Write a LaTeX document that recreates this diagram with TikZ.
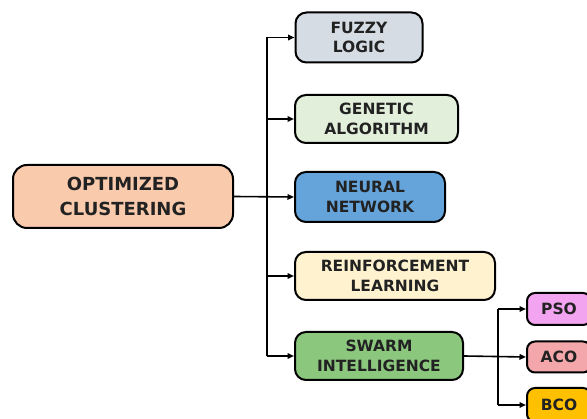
\documentclass[tikz,border=0pt]{standalone}
\usepackage{fontspec}
\setmainfont{DejaVu Sans}
\usetikzlibrary{arrows.meta}
\definecolor{cOpt}{RGB}{249,202,172}
\definecolor{cFuzzy}{RGB}{214,220,228}
\definecolor{cGen}{RGB}{226,239,218}
\definecolor{cNeu}{RGB}{100,164,219}
\definecolor{cRein}{RGB}{255,242,206}
\definecolor{cSwarm}{RGB}{140,199,126}
\definecolor{cPso}{RGB}{243,164,240}
\definecolor{cAco}{RGB}{244,167,170}
\definecolor{cBco}{RGB}{255,192,0}
\definecolor{cText}{RGB}{34,34,34}
\tikzset{
  box/.style={draw=black, line width=2pt, rounded corners=11pt, align=center,
    font=\bfseries\fontsize{15.5}{19.5}\selectfont, text=cText, inner sep=0pt},
  bigbox/.style={box, rounded corners=14pt, font=\bfseries\fontsize{18}{25}\selectfont},
  smallbox/.style={box, rounded corners=8pt},
  conn/.style={line width=1.6pt, -{Triangle[length=6.5pt,width=5.5pt]}},
  trunk/.style={line width=1.6pt}
}
\begin{document}
\begin{tikzpicture}[x=1pt,y=-1pt]
\useasboundingbox (0,0) rectangle (587,419);
\clip (0,0) rectangle (587,419);
\fill[white] (0,0) rectangle (587,419);
\node[bigbox, fill=cOpt, minimum width=220pt, minimum height=63pt] (opt) at (123,196.5) {OPTIMIZED\\CLUSTERING};
\node[box, fill=cFuzzy, minimum width=127pt, minimum height=50pt] (fuzzy) at (359,37.5) {FUZZY\\LOGIC};
\node[box, fill=cGen, minimum width=163pt, minimum height=48pt] (gen) at (376.5,119) {GENETIC\\ALGORITHM};
\node[box, fill=cNeu, minimum width=150pt, minimum height=50pt] (neu) at (370,197) {NEURAL\\NETWORK};
\node[box, fill=cRein, minimum width=200pt, minimum height=48pt] (rein) at (395,276) {REINFORCEMENT\\LEARNING};
\node[box, fill=cSwarm, minimum width=168pt, minimum height=48pt] (swarm) at (379,356) {SWARM\\INTELLIGENCE};
\node[smallbox, fill=cPso, minimum width=64pt, minimum height=32pt] (pso) at (559,309) {PSO};
\node[smallbox, fill=cAco, minimum width=64pt, minimum height=31pt] (aco) at (559,357) {ACO};
\node[smallbox, fill=cBco, minimum width=64pt, minimum height=34pt] (bco) at (559,405) {BCO};
\coordinate (t1) at (267,0);
\coordinate (t2) at (498,0);
\draw[trunk] (t1 |- fuzzy.west) -- (t1 |- swarm.west);
\draw[conn] (opt.east) -- (neu.west);
\foreach \n in {fuzzy,gen,rein,swarm}
  \draw[conn] (t1 |- \n.west) -- (\n.west);
\draw[trunk] (t2 |- pso.west) -- (t2 |- bco.west);
\draw[conn] (swarm.east) -- (aco.west);
\draw[conn] (t2 |- pso.west) -- (pso.west);
\draw[conn] (t2 |- bco.west) -- (bco.west);
\end{tikzpicture}
\end{document}
